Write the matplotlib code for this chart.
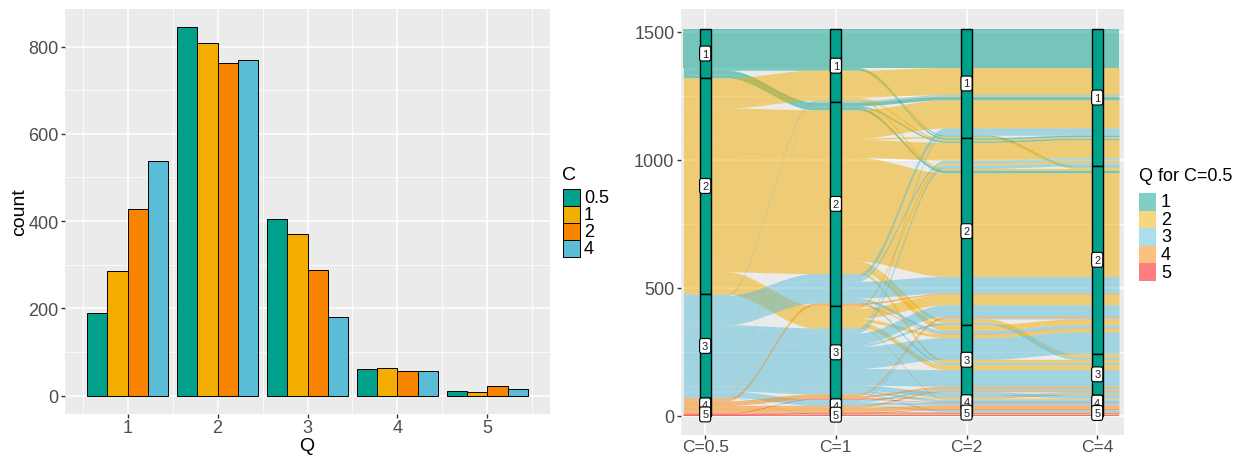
import numpy as np
import matplotlib
matplotlib.use("Agg")
import matplotlib.pyplot as plt
from matplotlib.patches import Rectangle
from matplotlib.ticker import MultipleLocator

plt.rcParams['font.family'] = ['Liberation Sans', 'DejaVu Sans']

# --- left panel: counts of Q for each C ---
q_levels = [1, 2, 3, 4, 5]
c_levels = ['0.5', '1', '2', '4']
bar_c05 = [189, 844, 405, 61, 11]
bar_c1 = [285, 809, 371, 64, 9]
bar_c2 = [428, 762, 287, 56, 21]
bar_c4 = [537, 769, 180, 57, 14]
bar_colors = ['#00A08A', '#F2AD00', '#F98400', '#5BBCD6']

# --- right panel: one row per trajectory (Q at C=0.5, 1, 2, 4) + number of subjects ---
axis_labels = ['C=0.5', 'C=1', 'C=2', 'C=4']
traj_c05 = [1, 1, 1, 1, 1, 1,
            2, 2, 2, 2, 2, 2, 2, 2, 2, 2, 2, 2, 2, 2, 2,
            3, 3, 3, 3, 3, 3, 3, 3, 3, 3, 3, 3, 3, 3, 3, 3, 3, 3, 3, 3, 3,
            4, 4, 4, 4, 4, 4, 4, 4, 4, 4,
            5, 5, 5, 5]
traj_c1 = [1, 1, 1, 2, 2, 2,
           1, 1, 1, 2, 2, 2, 2, 2, 2, 2, 3, 3, 3, 3, 3,
           1, 2, 2, 2, 2, 2, 3, 3, 3, 3, 3, 3, 3, 3, 3, 3, 4, 4, 4, 4, 5,
           1, 2, 2, 3, 3, 3, 4, 4, 4, 5,
           3, 4, 4, 5]
traj_c2 = [1, 1, 2, 1, 2, 2,
           1, 2, 2, 1, 1, 2, 2, 2, 3, 3, 2, 2, 3, 3, 4,
           1, 1, 2, 2, 3, 3, 1, 2, 2, 2, 3, 3, 3, 4, 4, 5, 2, 3, 4, 5, 5,
           1, 2, 3, 2, 3, 4, 3, 4, 5, 5,
           4, 5, 4, 5]
traj_c4 = [1, 2, 1, 1, 1, 2,
           1, 1, 2, 1, 2, 1, 2, 3, 2, 3, 1, 2, 2, 3, 4,
           1, 1, 1, 2, 2, 3, 1, 1, 2, 3, 2, 3, 4, 3, 4, 5, 2, 3, 4, 4, 5,
           1, 2, 2, 2, 3, 3, 3, 4, 5, 5,
           4, 5, 4, 5]
traj_n = [150, 4, 6, 14, 6, 10,
          105, 6, 7, 110, 6, 70, 405, 14, 23, 12, 10, 40, 12, 20, 5,
          5, 20, 10, 65, 12, 8, 8, 12, 45, 8, 85, 65, 12, 8, 10, 5, 4, 8, 10, 3, 2,
          2, 6, 4, 6, 8, 4, 6, 16, 5, 3,
          2, 3, 2, 3]
q_colors = ['#00A08A', '#F2AD00', '#5BBCD6', '#F98400', '#FF0000']
stratum_color = '#00A08A'

W, H = 1246, 456
fig = plt.figure(figsize=(W / 100, H / 100), dpi=100)


def style_axes(ax):
    ax.set_facecolor('#EBEBEB')
    for s in ax.spines.values():
        s.set_visible(False)
    ax.set_axisbelow(True)
    ax.grid(which='major', color='white', lw=1.1)
    ax.grid(which='minor', color='white', lw=0.55)
    ax.tick_params(which='major', length=2.75, width=1.0, color='#333333',
                   labelsize=13, labelcolor='#4D4D4D', pad=2)
    ax.tick_params(which='minor', length=0)


def fig_rect(x, y, w, h, **kw):
    fig.add_artist(Rectangle((x / W, 1 - (y + h) / H), w / W, h / H,
                             transform=fig.transFigure, **kw))


def fig_text(x, y, s, size=13):
    fig.text(x / W, 1 - y / H, s, va='center', ha='left', fontsize=size)


# ---------------- left: grouped bars ----------------
ax1 = fig.add_axes([65 / W, 1 - 415 / H, 485 / W, 405 / H])
style_axes(ax1)
bw = 0.9 / 4
x = np.array(q_levels, dtype=float)
for i, vals in enumerate([bar_c05, bar_c1, bar_c2, bar_c4]):
    ax1.bar(x - 0.45 + bw * (i + 0.5), vals, width=bw, color=bar_colors[i],
            edgecolor='black', linewidth=0.7)
ax1.set_xlim(0.305, 5.695)
ax1.set_ylim(-42.2, 886.2)
ax1.set_xticks(q_levels)
ax1.xaxis.set_minor_locator(MultipleLocator(0.5))
ax1.yaxis.set_major_locator(MultipleLocator(200))
ax1.yaxis.set_minor_locator(MultipleLocator(100))
ax1.tick_params(axis='x', which='major', pad=0.5)
ax1.set_ylabel('count', fontsize=14, labelpad=0)
fig.text(307 / W, 1 - 447 / H, 'Q', ha='center', va='center', fontsize=14)

fig_text(562, 176, 'C', size=14)
for i, lab in enumerate(c_levels):
    fig_rect(563, 190 + 17 * i, 17, 17, facecolor=bar_colors[i], edgecolor='black', lw=0.7)
    fig_text(584, 199 + 17 * i, lab)

# ---------------- right: alluvial ----------------
ax2 = fig.add_axes([681 / W, 1 - 436 / H, 443 / W, 426 / H])
style_axes(ax2)
ax2.set_xlim(0.815, 4.205)
ax2.set_ylim(-75.5, 1589)
ax2.set_xticks([1, 2, 3, 4])
ax2.set_xticklabels(axis_labels)
ax2.tick_params(axis='x', which='major', pad=0, labelsize=12.5)
ax2.xaxis.grid(False, which='minor')
ax2.yaxis.set_major_locator(MultipleLocator(500))
ax2.yaxis.set_minor_locator(MultipleLocator(250))

cols = [traj_c05, traj_c1, traj_c2, traj_c4]
n_traj = len(traj_n)
total = sum(traj_n)
xs = [1, 2, 3, 4]
guide = [[1, 2, 3], [0, 2, 3], [3, 1, 0], [2, 1, 0]]  # zigzag lode guidance

tops = np.zeros((4, n_traj))
for a in range(4):
    order = sorted(range(n_traj),
                   key=lambda k: (cols[a][k],) + tuple(cols[b][k] for b in guide[a]) + (k,))
    y = total
    for k in order:
        tops[a, k] = y
        y -= traj_n[k]

w_all = 1 / 3
t = np.linspace(0, 1, 50)[1:-1]
s = 3 * t ** 2 - 2 * t ** 3


def path(yv):
    xx, yy = [], []
    for a in range(4):
        xx += [xs[a] - w_all / 2, xs[a] + w_all / 2]
        yy += [yv[a], yv[a]]
        if a < 3:
            xx += list(xs[a] + w_all / 2 + t * (1 - w_all))
            yy += list(yv[a] + s * (yv[a + 1] - yv[a]))
    return np.array(xx), np.array(yy)


for k in range(n_traj):
    xx, yt = path(tops[:, k])
    _, yb = path(tops[:, k] - traj_n[k])
    ax2.fill_between(xx, yb, yt, color=q_colors[traj_c05[k] - 1], alpha=0.5, lw=0)

w_str = 1 / 12
for a in range(4):
    y = total
    for q in q_levels:
        cnt = sum(n for n, c in zip(traj_n, cols[a]) if c == q)
        ax2.add_patch(Rectangle((xs[a] - w_str / 2, y - cnt), w_str, cnt,
                                facecolor=stratum_color, edgecolor='black', lw=1.0, zorder=3))
        ax2.text(xs[a], y - cnt / 2, str(q), ha='center', va='center', fontsize=8,
                 color='#222222', zorder=4,
                 bbox=dict(boxstyle='round,pad=0.22,rounding_size=0.2', fc='white', ec='black', lw=0.8))
        y -= cnt

fig_text(1139, 177, 'Q for C=0.5')
for i, q in enumerate(q_levels):
    fig_rect(1139, 194 + 17.5 * i, 17, 17.5, facecolor=q_colors[i], alpha=0.5, edgecolor='none')
    fig_text(1161, 203 + 17.5 * i, str(q))

fig.savefig('out.png', dpi=100)
